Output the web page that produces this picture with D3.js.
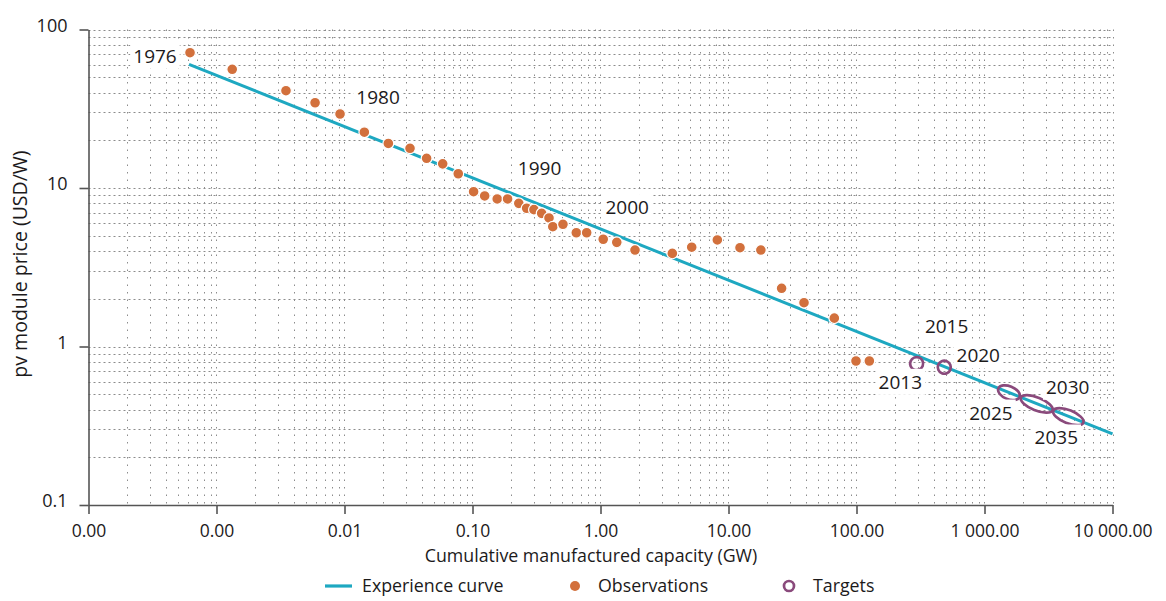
<!DOCTYPE html>
<html><head><meta charset="utf-8">
<script src="https://cdn.jsdelivr.net/npm/d3@7"></script>
<style>
body{margin:0;background:#fff;}
svg text{font-family:"Open Sans", sans-serif; fill:#1c1a1b;}
</style></head><body>
<svg id="chart" width="1166" height="601"></svg>
<script>
// ---------- DATA ----------
const obsCapacity = [0.000621,0.001327,0.00349,0.00589,0.00923,0.01429,0.0220,0.0325,0.0438,0.0585,0.0774,
  0.102,0.1245,0.156,0.188,0.230,0.265,0.302,0.347,0.396,0.424,0.509,0.647,0.780,1.05,1.34,1.86,3.64,5.16,8.18,
  12.3,17.9,26.0,38.9,67.1,99.1,126];
const obsPrice = [71.4,56.1,41.1,34.5,29.3,22.5,19.1,17.8,15.4,14.2,12.3,
  9.48,8.91,8.53,8.53,8.0,7.45,7.30,6.92,6.47,5.70,5.90,5.22,5.22,4.75,4.54,4.06,3.87,4.23,4.70,
  4.20,4.06,2.33,1.89,1.51,0.81,0.81];
const curveCapacity = [0.00061, 10000];
const curvePrice = [60.3, 0.281];
const targetYears = ["2015","2020","2025","2030","2035"];
const targetCapacity = [295, 485, 1553, 2558, 4517];
const targetPrice = [0.78, 0.74, 0.511, 0.434, 0.361];
const targetCapacityLow = [295, 485, 1283, 1923, 3448];
const targetCapacityHigh = [295, 485, 1880, 3402, 5917];
const obsLabelYears = ["1976","1980","1990","2000","2013"];
const obsLabelIndex = [0, 4, 11, 24, 36];
const xTickValues = [1e-4,1e-3,0.01,0.1,1,10,100,1000,10000];
const xTickLabels = ["0.00","0.00","0.01","0.10","1.00","10.00","100.00","1 000.00","10 000.00"];
const yTickValues = [0.1,1,10,100];
const yTickLabels = ["0.1","1","10","100"];
const xTitle = "Cumulative manufactured capacity (GW)";
const yTitle = "pv module price (USD/W)";
const legendLabels = ["Experience curve","Observations","Targets"];

// ---------- LAYOUT / STYLE ----------
const C = {curve:"#1ea8c1", obs:"#d2703c", target:"#8a4a7c", axis:"#555", grid:"#8c8c8c", text:"#1c1a1b"};
const obsLabelOffsets = [[-35,3],[38,-17],[66,-24],[24,-32],[31,21]];
const targetLabelOffsets = [[30,-37],[34,-12],[-18,20],[31,-17],[-12,21]];

const svg = d3.select("#chart");
const x = d3.scaleLog().domain([1e-4,1e4]).range([88.5,1112.5]);
const y = d3.scaleLog().domain([0.1,100]).range([505,29.5]);

// grid
const vGrid = [], hGrid = [];
for (let n=-4;n<4;n++) for (let k=1;k<=9;k++){ const v=k*Math.pow(10,n); if (n===-4&&k===1) continue; vGrid.push(v);} vGrid.push(1e4);
for (let n=-1;n<2;n++) for (let k=1;k<=9;k++){ const v=k*Math.pow(10,n); if (n===-1&&k===1) continue; hGrid.push(v);} hGrid.push(100);
const g = svg.append("g");
g.selectAll("line.v").data(vGrid).join("line").attr("class","v")
  .attr("x1",d=>Math.round(x(d))+0.5).attr("x2",d=>Math.round(x(d))+0.5)
  .attr("y1",y(100)).attr("y2",y(0.1))
  .attr("stroke",C.grid).attr("stroke-width",1).attr("stroke-dasharray","1.5,6");
g.selectAll("line.h").data(hGrid).join("line").attr("class","h")
  .attr("y1",d=>Math.round(y(d))+0.5).attr("y2",d=>Math.round(y(d))+0.5)
  .attr("x1",x(1e-4)).attr("x2",x(1e4))
  .attr("stroke",C.grid).attr("stroke-width",1).attr("stroke-dasharray","2,3");

// axes
const fsTick = 17.5, fsYear = 19, fsTitle = 17.8;
const xAxis = d3.axisBottom(x).tickValues(xTickValues).tickFormat((d,i)=>xTickLabels[i]).tickSize(9).tickSizeOuter(0).tickPadding(10.5);
const yAxis = d3.axisLeft(y).tickValues(yTickValues).tickFormat((d,i)=>yTickLabels[i]).tickSize(9).tickSizeOuter(0).tickPadding(12);
const gx = svg.append("g").attr("transform",`translate(0,${y(0.1)})`).call(xAxis);
const gy = svg.append("g").attr("transform",`translate(${x(1e-4)},0)`).call(yAxis);
[gx,gy].forEach(a=>{
  a.select(".domain").attr("stroke",C.axis).attr("stroke-width",1.6);
  a.selectAll(".tick line").attr("stroke",C.axis).attr("stroke-width",1.6);
  a.selectAll(".tick text").attr("font-size",fsTick).attr("font-family","Open Sans").attr("fill",C.text);
});
gy.selectAll(".tick text").attr("font-size",18).attr("dy","0.1em");

// label backgrounds helper
function labelWithBg(parent, text, cx, cy){
  const t = parent.append("text").attr("x",cx).attr("y",cy).attr("text-anchor","middle").attr("dy","0.36em")
    .attr("font-size",fsYear).text(text);
  const b = t.node().getBBox();
  parent.insert("rect","text").attr("x",b.x-3).attr("y",b.y).attr("width",b.width+6).attr("height",b.height).attr("fill","#fff");
  return t;
}

// experience curve
const curveData = curveCapacity.map((c,i)=>[c,curvePrice[i]]);
svg.append("path").datum(curveData)
  .attr("d", d3.line().x(d=>x(d[0])).y(d=>y(d[1])))
  .attr("fill","none").attr("stroke",C.curve).attr("stroke-width",3);

// observations
svg.append("g").selectAll("circle").data(obsCapacity.map((c,i)=>[c,obsPrice[i]])).join("circle")
  .attr("cx",d=>x(d[0])).attr("cy",d=>y(d[1])).attr("r",5.4)
  .attr("fill",C.obs).attr("stroke","#fff").attr("stroke-width",1.2);

// targets
const p0=[x(curveCapacity[0]),y(curvePrice[0])], p1=[x(curveCapacity[1]),y(curvePrice[1])];
const ang = Math.atan2(p1[1]-p0[1], p1[0]-p0[0]);
const minorR = 6.5;
svg.append("g").selectAll("ellipse").data(targetCapacity.map((c,i)=>i)).join("ellipse")
  .attr("transform",i=>`translate(${x(targetCapacity[i])},${y(targetPrice[i])}) rotate(${ang*180/Math.PI})`)
  .attr("rx",i=>Math.max(minorR,(x(targetCapacityHigh[i])-x(targetCapacityLow[i]))/2/Math.cos(ang)))
  .attr("ry",minorR)
  .attr("fill","none").attr("stroke",C.target).attr("stroke-width",2.7);

// year labels
const lab = svg.append("g");
obsLabelYears.forEach((yr,i)=>{
  const k=obsLabelIndex[i];
  labelWithBg(lab.append("g"), yr, x(obsCapacity[k])+obsLabelOffsets[i][0], y(obsPrice[k])+obsLabelOffsets[i][1]);
});
targetYears.forEach((yr,i)=>{
  labelWithBg(lab.append("g"), yr, x(targetCapacity[i])+targetLabelOffsets[i][0], y(targetPrice[i])+targetLabelOffsets[i][1]);
});

// titles
svg.append("text").attr("x",591).attr("y",562).attr("text-anchor","middle").attr("font-size",fsTitle).text(xTitle);
svg.append("text").attr("transform","translate(27,264) rotate(-90)").attr("text-anchor","middle").attr("font-size",19.5).text(yTitle);

// legend
const lg = svg.append("g");
lg.append("line").attr("x1",325).attr("x2",352).attr("y1",586).attr("y2",586).attr("stroke",C.curve).attr("stroke-width",3.2);
lg.append("text").attr("x",362).attr("y",592).attr("font-size",fsTitle).text(legendLabels[0]);
lg.append("circle").attr("cx",575).attr("cy",586).attr("r",5).attr("fill",C.obs);
lg.append("text").attr("x",598).attr("y",592).attr("font-size",fsTitle).text(legendLabels[1]);
lg.append("circle").attr("cx",789).attr("cy",586).attr("r",5).attr("fill","none").attr("stroke",C.target).attr("stroke-width",2.7);
lg.append("text").attr("x",813).attr("y",592).attr("font-size",fsTitle).text(legendLabels[2]);
</script>
</body></html>
